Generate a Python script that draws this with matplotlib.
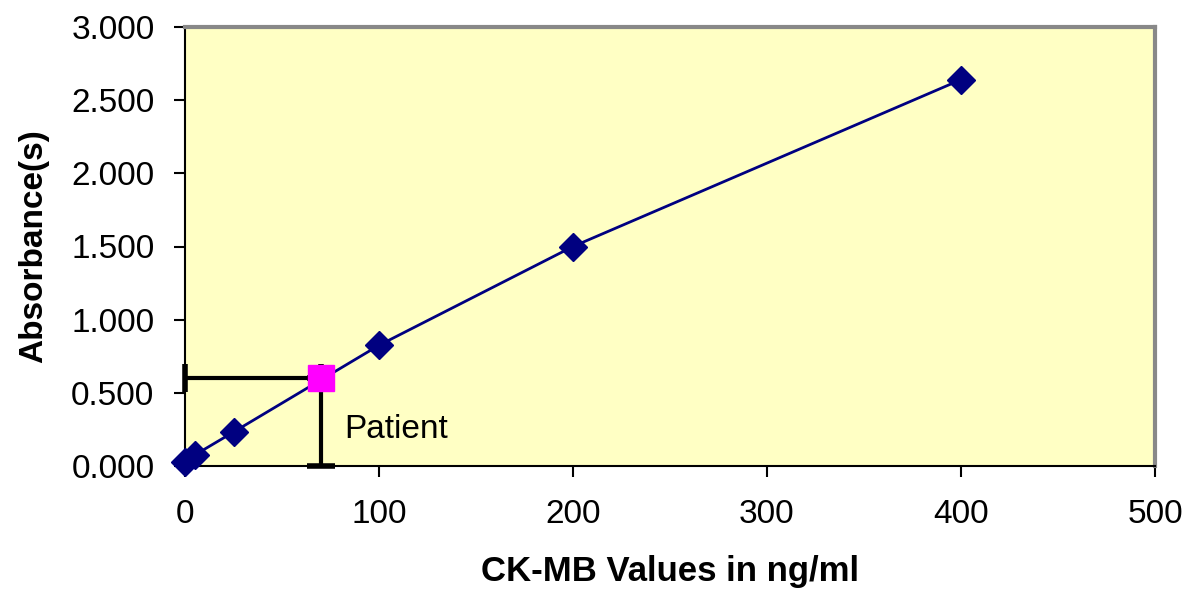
import matplotlib
matplotlib.use("Agg")
import matplotlib.pyplot as plt
import numpy as np

plt.rcParams['font.family'] = ['Liberation Sans', 'DejaVu Sans']

# standard curve
conc = [0, 5, 25, 100, 200, 400]
absorb = [0.027, 0.075, 0.232, 0.825, 1.50, 2.64]

# patient sample
patient_x = 70
patient_y = 0.60

fig = plt.figure(figsize=(11.87, 5.90), dpi=100)
ax = fig.add_axes([185 / 1187, 1 - 466 / 590, 970 / 1187, 439 / 590])
ax.set_facecolor('#FFFFC4')

ax.plot(conc, absorb, color='#000080', lw=2, marker='D', ms=14,
        mfc='#000080', mec='#000080', zorder=4, clip_on=False)

# patient reading lines back to the axes
ax.errorbar([patient_x], [patient_y], xerr=[[patient_x], [0]], yerr=[[patient_y], [0]],
            fmt='none', ecolor='black', elinewidth=3, capsize=10, capthick=4, zorder=3,
            clip_on=False)
ax.plot([patient_x], [patient_y], marker='s', ms=19, color='#FF00FF', zorder=5, ls='none')
ax.text(82, 0.25, 'Patient', fontsize=24, ha='left', va='center')

ax.set_xlim(0, 500)
ax.set_ylim(0, 3.0)
ax.set_xticks([0, 100, 200, 300, 400, 500])
ax.set_yticks(np.arange(0, 3.01, 0.5))
ax.set_yticklabels(['%.3f' % v for v in np.arange(0, 3.01, 0.5)])

for side in ['top', 'right']:
    ax.spines[side].set_color('#888888')
    ax.spines[side].set_linewidth(3)
for side in ['left', 'bottom']:
    ax.spines[side].set_color('black')
    ax.spines[side].set_linewidth(1.5)

ax.tick_params(axis='both', direction='out', length=8, width=1.5, labelsize=24)
ax.tick_params(axis='y', pad=14)
ax.tick_params(axis='x', pad=16)

ax.set_xlabel('CK-MB Values in ng/ml', fontsize=25, fontweight='bold', labelpad=18)
ax.set_ylabel('Absorbance(s)', fontsize=24, fontweight='bold', labelpad=16)

fig.savefig('out.png', dpi=100)
